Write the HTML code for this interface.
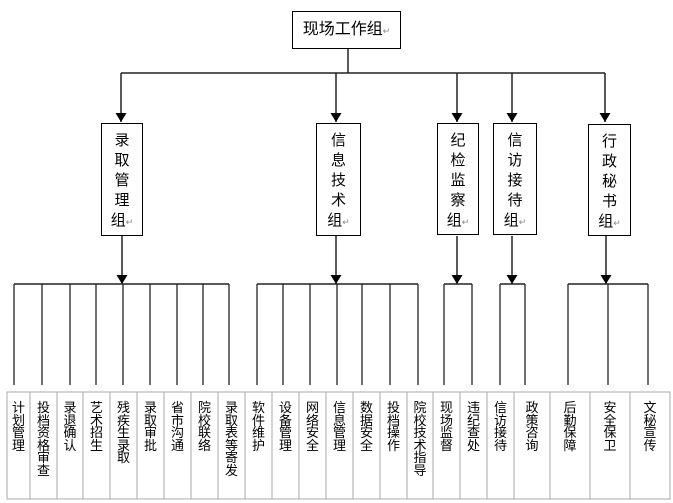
<!DOCTYPE html>
<html><head><meta charset="utf-8">
<style>
body{margin:0;background:#fff;width:673px;height:503px;overflow:hidden;position:relative;font-family:"Liberation Sans","Noto Sans CJK SC",sans-serif;}
.box{position:absolute;border:1.3px solid #000;box-sizing:border-box;background:#fff;}
.vt{position:absolute;text-align:center;font-size:15px;line-height:20px;color:#000;}
.cell{position:absolute;top:402px;text-align:center;font-size:13px;line-height:12.5px;color:#000;}
.m{color:#888;font-size:9px;}
</style></head><body>
<svg width="673" height="503" style="position:absolute;left:0;top:0">
<defs><marker id="a" markerWidth="10" markerHeight="12" refX="9" refY="5.5" orient="auto" markerUnits="userSpaceOnUse"><path d="M0,0 L9,5.5 L0,11 z" fill="#000"/></marker></defs>
<g stroke="#222" stroke-width="1.5" fill="none">
<line x1="348" y1="49" x2="348" y2="73"/>
<line x1="121" y1="73" x2="605" y2="73"/>
<line x1="121" y1="73" x2="121" y2="122" marker-end="url(#a)"/>
<line x1="336" y1="73" x2="336" y2="122" marker-end="url(#a)"/>
<line x1="457" y1="73" x2="457" y2="122" marker-end="url(#a)"/>
<line x1="512" y1="73" x2="512" y2="122" marker-end="url(#a)"/>
<line x1="605" y1="73" x2="605" y2="122" marker-end="url(#a)"/>
<line x1="122" y1="236" x2="122" y2="284" marker-end="url(#a)"/>
<line x1="336" y1="236" x2="336" y2="284" marker-end="url(#a)"/>
<line x1="457" y1="236" x2="457" y2="284" marker-end="url(#a)"/>
<line x1="512" y1="236" x2="512" y2="284" marker-end="url(#a)"/>
<line x1="606" y1="236" x2="606" y2="284" marker-end="url(#a)"/>
<line x1="14" y1="284" x2="229" y2="284"/>
<line x1="257" y1="284" x2="418" y2="284"/>
<line x1="444" y1="284" x2="472" y2="284"/>
<line x1="500" y1="284" x2="525" y2="284"/>
<line x1="568" y1="284" x2="648" y2="284"/>
</g>
<g stroke="#222" stroke-width="1.3">
<line x1="14" y1="284" x2="14" y2="385"/><line x1="42" y1="284" x2="42" y2="385"/><line x1="70" y1="284" x2="70" y2="385"/><line x1="96" y1="284" x2="96" y2="385"/><line x1="123" y1="284" x2="123" y2="385"/><line x1="150" y1="284" x2="150" y2="385"/><line x1="177" y1="284" x2="177" y2="385"/><line x1="203" y1="284" x2="203" y2="385"/><line x1="229" y1="284" x2="229" y2="385"/>
<line x1="257" y1="284" x2="257" y2="385"/><line x1="283" y1="284" x2="283" y2="385"/><line x1="310" y1="284" x2="310" y2="385"/><line x1="337" y1="284" x2="337" y2="385"/><line x1="362" y1="284" x2="362" y2="385"/><line x1="390" y1="284" x2="390" y2="385"/><line x1="418" y1="284" x2="418" y2="385"/>
<line x1="444" y1="284" x2="444" y2="385"/><line x1="472" y1="284" x2="472" y2="385"/>
<line x1="500" y1="284" x2="500" y2="385"/><line x1="525" y1="284" x2="525" y2="385"/>
<line x1="568" y1="284" x2="568" y2="385"/><line x1="608" y1="284" x2="608" y2="385"/><line x1="648" y1="284" x2="648" y2="385"/>
</g>
<g stroke="#aaa" stroke-width="1" fill="none">
<rect x="7" y="392" width="663" height="107"/>
<line x1="30" y1="392" x2="30" y2="499"/><line x1="57" y1="392" x2="57" y2="499"/><line x1="83" y1="392" x2="83" y2="499"/><line x1="110" y1="392" x2="110" y2="499"/><line x1="137" y1="392" x2="137" y2="499"/><line x1="164" y1="392" x2="164" y2="499"/><line x1="191" y1="392" x2="191" y2="499"/><line x1="218" y1="392" x2="218" y2="499"/><line x1="245" y1="392" x2="245" y2="499"/><line x1="272" y1="392" x2="272" y2="499"/><line x1="299" y1="392" x2="299" y2="499"/><line x1="326" y1="392" x2="326" y2="499"/><line x1="353" y1="392" x2="353" y2="499"/><line x1="380" y1="392" x2="380" y2="499"/><line x1="407" y1="392" x2="407" y2="499"/><line x1="433" y1="392" x2="433" y2="499"/><line x1="460" y1="392" x2="460" y2="499"/><line x1="487" y1="392" x2="487" y2="499"/><line x1="514" y1="392" x2="514" y2="499"/><line x1="550" y1="392" x2="550" y2="499"/><line x1="590" y1="392" x2="590" y2="499"/><line x1="630" y1="392" x2="630" y2="499"/>
</g>
</svg>
<div class="box" style="left:292px;top:11px;width:109px;height:38px;font-size:16px;line-height:36px;text-align:center;">现场工作组<span class="m">↵</span></div>
<div class="box" style="left:101px;top:123px;width:42px;height:113px;"></div>
<div class="box" style="left:316px;top:123px;width:45px;height:113px;"></div>
<div class="box" style="left:437px;top:123px;width:42px;height:112px;"></div>
<div class="box" style="left:493px;top:123px;width:44px;height:112px;"></div>
<div class="box" style="left:588px;top:124px;width:43px;height:112px;"></div>
<div class="vt" style="left:101px;top:131px;width:42px;">录<br>取<br>管<br>理<br>组<span class="m">↵</span></div>
<div class="vt" style="left:316px;top:131px;width:45px;">信<br>息<br>技<br>术<br>组<span class="m">↵</span></div>
<div class="vt" style="left:437px;top:131px;width:42px;">纪<br>检<br>监<br>察<br>组<span class="m">↵</span></div>
<div class="vt" style="left:493px;top:131px;width:44px;">信<br>访<br>接<br>待<br>组<span class="m">↵</span></div>
<div class="vt" style="left:588px;top:132px;width:43px;">行<br>政<br>秘<br>书<br>组<span class="m">↵</span></div>
<div class="cell" style="left:7px;width:23px;">计<br>划<br>管<br>理</div>
<div class="cell" style="left:30px;width:27px;">投<br>档<br>资<br>格<br>审<br>查</div>
<div class="cell" style="left:57px;width:26px;">录<br>退<br>确<br>认</div>
<div class="cell" style="left:83px;width:27px;">艺<br>术<br>招<br>生</div>
<div class="cell" style="left:110px;width:27px;">残<br>疾<br>生<br>录<br>取</div>
<div class="cell" style="left:137px;width:27px;">录<br>取<br>审<br>批</div>
<div class="cell" style="left:164px;width:27px;">省<br>市<br>沟<br>通</div>
<div class="cell" style="left:191px;width:27px;">院<br>校<br>联<br>络</div>
<div class="cell" style="left:218px;width:27px;">录<br>取<br>表<br>等<br>寄<br>发</div>
<div class="cell" style="left:245px;width:27px;">软<br>件<br>维<br>护</div>
<div class="cell" style="left:272px;width:27px;">设<br>备<br>管<br>理</div>
<div class="cell" style="left:299px;width:27px;">网<br>络<br>安<br>全</div>
<div class="cell" style="left:326px;width:27px;">信<br>息<br>管<br>理</div>
<div class="cell" style="left:353px;width:27px;">数<br>据<br>安<br>全</div>
<div class="cell" style="left:380px;width:27px;">投<br>档<br>操<br>作</div>
<div class="cell" style="left:407px;width:26px;">院<br>校<br>技<br>术<br>指<br>导</div>
<div class="cell" style="left:433px;width:27px;">现<br>场<br>监<br>督</div>
<div class="cell" style="left:460px;width:27px;">违<br>纪<br>查<br>处</div>
<div class="cell" style="left:487px;width:27px;">信<br>访<br>接<br>待</div>
<div class="cell" style="left:514px;width:36px;">政<br>策<br>咨<br>询</div>
<div class="cell" style="left:550px;width:40px;">后<br>勤<br>保<br>障</div>
<div class="cell" style="left:590px;width:40px;">安<br>全<br>保<br>卫</div>
<div class="cell" style="left:630px;width:40px;">文<br>秘<br>宣<br>传</div>
</body></html>
